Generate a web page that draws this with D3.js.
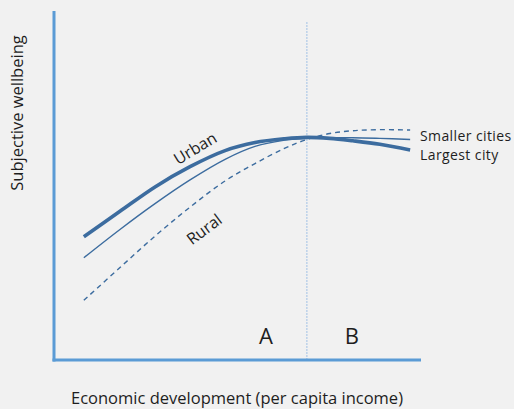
<!DOCTYPE html>
<html>
<head>
<meta charset="utf-8">
<script src="https://cdn.jsdelivr.net/npm/d3@7"></script>
<style>
  html, body { margin: 0; padding: 0; background: #f1f1f1; }
  svg { display: block; }
  text { font-family: "Open Sans", "Noto Sans", sans-serif; fill: #1e1e1e; }
</style>
</head>
<body>
<script>
// Conceptual scale: development 0..100, wellbeing 0..100
const development = [7.9, 17.8, 27.4, 37.0, 46.6, 54.8, 63.0, 69.0, 75.3, 81.6, 89.0, 97.3];
const largestCity = [35.3, 42.6, 49.6, 55.4, 60.0, 62.3, 63.4, 63.8, 63.5, 62.8, 61.8, 60.2];
const smallerCities = [29.3, 37.4, 44.8, 51.6, 57.5, 61.2, 63.0, 63.5, 63.7, 63.7, 63.5, 63.2];
const rural = [17.1, 26.5, 35.5, 43.8, 51.3, 56.3, 60.7, 63.2, 64.9, 65.7, 66.0, 65.9];
const phaseBoundary = 69;
const phaseLabels = [{ name: "A", x: 57.8 }, { name: "B", x: 81.3 }];

const W = 514, H = 409;
const svg = d3.select("body").append("svg").attr("width", W).attr("height", H);
svg.append("rect").attr("width", W).attr("height", H).attr("fill", "#f1f1f1");

const x = d3.scaleLinear().domain([0, 100]).range([55, 420]);
const y = d3.scaleLinear().domain([0, 100]).range([360, 11]);

const axisColor = "#5b9bd5";
const lineColor = "#3c6c9f";

// Phase divider
svg.append("line")
  .attr("x1", x(phaseBoundary)).attr("x2", x(phaseBoundary))
  .attr("y1", 22).attr("y2", y(0))
  .attr("stroke", "#b4cce8").attr("stroke-width", 1.3)
  .attr("stroke-dasharray", "2,1");

// Axes
svg.append("line")
  .attr("x1", x(0) - 1).attr("x2", x(0) - 1)
  .attr("y1", y(100)).attr("y2", y(0) + 1.5)
  .attr("stroke", axisColor).attr("stroke-width", 3);
svg.append("line")
  .attr("x1", x(0) - 2.5).attr("x2", x(100) + 1)
  .attr("y1", y(0)).attr("y2", y(0))
  .attr("stroke", axisColor).attr("stroke-width", 3);

const line = d3.line()
  .x((d, i) => x(development[i]))
  .y(d => y(d))
  .curve(d3.curveCatmullRom.alpha(0.5));

svg.append("path").datum(rural)
  .attr("d", line).attr("fill", "none")
  .attr("stroke", lineColor).attr("stroke-width", 1.4)
  .attr("stroke-dasharray", "5,4");
svg.append("path").datum(smallerCities)
  .attr("d", line).attr("fill", "none")
  .attr("stroke", lineColor).attr("stroke-width", 1.4);
svg.append("path").datum(largestCity)
  .attr("d", line).attr("fill", "none")
  .attr("stroke", lineColor).attr("stroke-width", 3.6);

// Series labels
svg.append("text").attr("x", 420).attr("y", 141)
  .attr("font-size", 14).attr("letter-spacing", 0.4).text("Smaller cities");
svg.append("text").attr("x", 420).attr("y", 160)
  .attr("font-size", 14).attr("letter-spacing", 0.4).text("Largest city");

svg.append("text")
  .attr("transform", "translate(195,148) rotate(-31)")
  .attr("text-anchor", "middle").attr("dominant-baseline", "central")
  .attr("font-size", 16).text("Urban");
svg.append("text")
  .attr("transform", "translate(204,229) rotate(-37)")
  .attr("text-anchor", "middle").attr("dominant-baseline", "central")
  .attr("font-size", 16).text("Rural");

// Phase labels
svg.selectAll(".phase").data(phaseLabels).enter().append("text")
  .attr("class", "phase")
  .attr("x", d => x(d.x)).attr("y", 344)
  .attr("text-anchor", "middle")
  .attr("font-size", 22).text(d => d.name);

// Axis titles
svg.append("text").attr("x", 237).attr("y", 404)
  .attr("text-anchor", "middle").attr("font-size", 16.5)
  .text("Economic development (per capita income)");
svg.append("text")
  .attr("transform", "translate(23,113) rotate(-90)")
  .attr("text-anchor", "middle").attr("font-size", 16.5)
  .text("Subjective wellbeing");
</script>
</body>
</html>
